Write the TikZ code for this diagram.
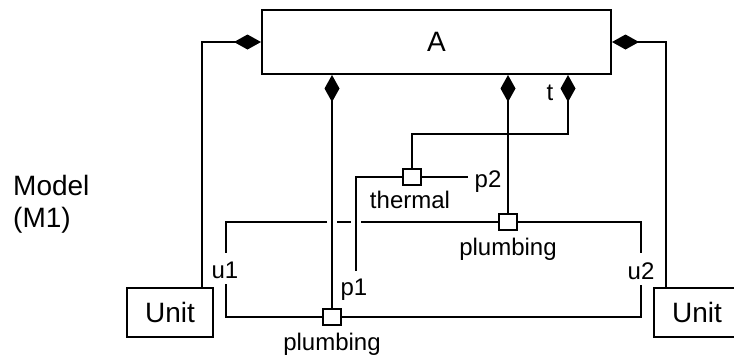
\documentclass[tikz,border=0pt]{standalone}
\usepackage{fontspec}
\setmainfont{Liberation Sans}
\usetikzlibrary{arrows.meta}
\begin{document}
\begin{tikzpicture}[x=1pt,y=-1pt,
  wire/.style={line width=2pt},
  comp/.style={wire,-{Diamond[length=27pt,width=15pt]}},
  box/.style={draw,line width=2pt,inner sep=0pt,font=\fontsize{28}{32}\selectfont},
  port/.style={draw,fill=white,line width=1.8pt,minimum width=18pt,minimum height=16pt,inner sep=0pt},
  lbl/.style={font=\fontsize{24}{28}\selectfont,inner sep=0pt,anchor=base},
  big/.style={font=\fontsize{28}{32}\selectfont,inner sep=0pt,anchor=base west}]
\useasboundingbox (0,0) rectangle (734,357);
\clip (0,0) rectangle (734,357);
% main parts
\node[box,minimum width=349pt,minimum height=64pt] (A) at (436.5,42) {A};
\node[box,minimum width=86pt,minimum height=49pt] (uL) at (170,312.5) {Unit};
\node[box,minimum width=86pt,minimum height=49pt] (uR) at (697,312.5) {Unit};
% ports
\node[port] (pT) at (508,222) {};
\node[port] (pB) at (332,317) {};
\node[port] (pTh) at (412,177) {};
% helper coordinates
\coordinate (tx) at (568,134);
\coordinate (p1end) at (356,271);
\coordinate (p2end) at (468,177);
\coordinate (u1a) at (226,253);
\coordinate (u1b) at (226,284);
\coordinate (u2a) at (641,253);
\coordinate (u2b) at (641,285);
\coordinate (g1) at (361,222);
\coordinate (g2) at (351,222);
\coordinate (g3) at (337,222);
\coordinate (g4) at (327,222);
% composition connectors
\draw[comp] ([xshift=32pt]uL.north) |- (A.west);
\draw[comp] ([xshift=-31pt]uR.north) |- (A.east);
\draw[comp] (pB.north) -- (pB.north |- A.south);
\draw[comp] (pT.north) -- (pT.north |- A.south);
\draw[comp] (pTh.north) |- (tx) -- (tx |- A.south);
% thermal wires
\draw[wire] (pTh.west) -| (p1end);
\draw[wire] (pTh.east) -- (p2end);
% plumbing loop
\draw[wire] (pT.east) -| (u2a);
\draw[wire] (u2b) |- (pB.east);
\draw[wire] (u1b) |- (pB.west);
\draw[wire] (pT.west) -- (g1);
\draw[wire] (g2) -- (g3);
\draw[wire] (g4) -| (u1a);
% redraw ports on top
\node[port] at (pT) {};
\node[port] at (pB) {};
\node[port] at (pTh) {};
% labels
\node[lbl] (lt) at (550,100) {t};
\node[lbl] (lth) at (410,208) {thermal};
\node[lbl] (lp2) at (488,187) {p2};
\node[lbl] (lpT) at (508,255) {plumbing};
\node[lbl] (lu1) at (225,278) {u1};
\node[lbl] (lu2) at (641,279) {u2};
\node[lbl] (lp1) at (354,295) {p1};
\node[lbl] (lpB) at (332,350) {plumbing};
\node[big] (lm1) at (13,195) {Model};
\node[big] (lm2) at (13,227) {(M1)};
\end{tikzpicture}
\end{document}
